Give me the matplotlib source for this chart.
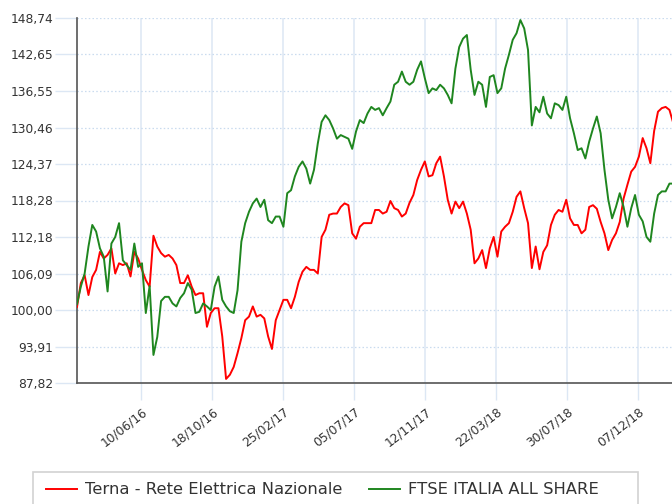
import matplotlib

matplotlib.use("Agg")

import matplotlib.pyplot as plt
import matplotlib.transforms as mtransforms
import pandas as pd
from matplotlib.patches import Rectangle

# ------------------------------------------------------------------
# Data (weekly samples, base 100)
# ------------------------------------------------------------------
dates = pd.date_range("2016-02-13", periods=157, freq="7D")

terna = [
    100.5, 104.5, 105.8, 102.5, 105.5, 106.7, 109.7, 108.6, 109.2, 110.3,
    106.1, 107.8, 107.5, 107.8, 105.6, 109.7, 108.6, 106.7, 105.0, 103.9,
    112.4, 110.6, 109.5, 108.9, 109.2, 108.6, 107.5, 104.5, 104.5, 105.8,
    103.9, 102.5, 102.8, 102.8, 97.2, 99.5, 100.3, 100.3, 95.6, 88.5,
    89.2, 90.5, 92.8, 95.3, 98.3, 98.9, 100.6, 98.9, 99.2, 98.6,
    95.6, 93.5, 98.3, 100.0, 101.7, 101.7, 100.3, 102.2, 104.7, 106.4,
    107.2, 106.7, 106.7, 106.1, 112.2, 113.4, 115.9, 116.1, 116.1, 117.2,
    117.8, 117.5, 112.8, 111.9, 113.9, 114.5, 114.5, 114.5, 116.7, 116.7,
    116.1, 116.4, 118.2, 117.0, 116.7, 115.6, 116.1, 117.9, 119.2, 121.7,
    123.4, 124.8, 122.3, 122.5, 124.5, 125.6, 122.3, 118.4, 116.1, 118.1,
    117.0, 118.1, 116.1, 113.4, 107.8, 108.6, 110.0, 107.0, 110.3, 112.2,
    108.9, 113.1, 113.9, 114.5, 116.4, 118.9, 119.8, 117.0, 114.5, 107.0,
    110.6, 106.8, 109.7, 110.8, 114.2, 115.9, 116.7, 116.4, 118.4, 115.3,
    114.2, 114.2, 112.8, 113.4, 117.2, 117.5, 116.9, 114.7, 112.8, 110.0,
    111.7, 112.8, 114.7, 118.6, 120.9, 123.1, 123.9, 125.6, 128.7, 127.0,
    124.5, 129.9, 133.1, 133.7, 133.9, 133.4, 131.2,
]

ftse = [
    101.0, 103.9, 106.1, 110.6, 114.2, 113.1, 110.3, 108.9, 103.1, 111.1,
    112.2, 114.5, 108.3, 107.5, 106.7, 111.1, 107.2, 107.8, 99.5, 104.0,
    92.5, 95.5, 101.5, 102.2, 102.2, 101.1, 100.6, 102.0, 102.8, 104.5,
    103.4, 99.5, 99.7, 101.1, 100.6, 100.0, 103.9, 105.6, 101.7, 100.6,
    99.8, 99.5, 103.3, 111.4, 114.5, 116.4, 117.8, 118.6, 117.2, 118.4,
    115.0, 114.5, 115.6, 115.6, 113.9, 119.5, 120.0, 122.3, 123.9, 124.8,
    123.6, 121.1, 123.4, 127.8, 131.4, 132.5, 131.7, 130.3, 128.6, 129.2,
    128.9, 128.6, 126.9, 129.8, 131.7, 131.2, 132.8, 133.9, 133.4, 133.7,
    132.5, 133.7, 134.8, 137.6, 138.1, 139.8, 138.1, 137.6, 138.1, 140.1,
    141.5, 138.7, 136.2, 137.0, 136.7, 137.6, 137.0, 135.9, 134.5, 140.3,
    143.9, 145.3, 145.9, 140.1, 135.9, 138.1, 137.6, 133.9, 138.9, 139.2,
    136.2, 137.0, 140.3, 142.6, 145.1, 146.2, 148.4, 147.0, 143.4, 130.8,
    133.9, 133.0, 135.6, 132.8, 132.0, 134.5, 134.2, 133.4, 135.6, 132.0,
    129.5, 126.7, 127.0, 125.3, 128.1, 130.3, 132.3, 129.5, 123.4, 118.4,
    115.3, 117.2, 119.5, 117.2, 113.9, 117.0, 119.2, 115.9, 114.8, 112.2,
    111.4, 116.1, 119.2, 119.8, 119.8, 121.1, 121.1,
]

series_names = ["Terna - Rete Elettrica Nazionale", "FTSE ITALIA ALL SHARE"]
series_colors = ["#ff0000", "#1f861f"]

x_tick_labels = [
    "10/06/16", "18/10/16", "25/02/17", "05/07/17",
    "12/11/17", "22/03/18", "30/07/18", "07/12/18",
]
y_tick_labels = [
    "87,82", "93,91", "100,00", "106,09", "112,18", "118,28",
    "124,37", "130,46", "136,55", "142,65", "148,74",
]

# ------------------------------------------------------------------
# Style
# ------------------------------------------------------------------
W, H = 672, 504
GRID_V = "#dce7f4"
GRID_H = "#c9dbef"
TEXT = "#333333"
AXIS = "#555555"


def px(x: float, y: float) -> tuple[float, float]:
    """Pixel position (top-left origin) to figure fraction."""
    return x / W, 1 - y / H


fig = plt.figure(figsize=(W / 100, H / 100), dpi=100)
ax = fig.add_axes([77 / W, 1 - 383 / H, 599 / W, 365 / H])

lines = []
for values, name, color in zip([terna, ftse], series_names, series_colors):
    (line,) = ax.plot(dates, values, color=color, lw=1.4, label=name, zorder=3)
    lines.append(line)

x_ticks = pd.to_datetime(x_tick_labels, format="%d/%m/%y")
y_ticks = [float(s.replace(",", ".")) for s in y_tick_labels]

ax.set_xlim(pd.Timestamp("2016-02-13"), pd.Timestamp("2019-02-14"))
ax.set_ylim(y_ticks[0], y_ticks[-1])

ax.set_xticks(x_ticks)
ax.set_xticklabels(
    x_tick_labels,
    rotation=38,
    ha="right",
    va="top",
    rotation_mode="anchor",
)
ax.set_yticks(y_ticks)
ax.set_yticklabels(y_tick_labels)

offset = mtransforms.ScaledTranslation(4 / 100, 0, fig.dpi_scale_trans)
for label in ax.get_xticklabels():
    label.set_transform(label.get_transform() + offset)

ax.tick_params(
    axis="x", length=12.2, width=1.0, color=GRID_V, pad=3.6,
    labelsize=8.8, labelcolor=TEXT,
)
ax.tick_params(
    axis="y", length=15.8, width=1.0, color=GRID_V, pad=1.4,
    labelsize=8.8, labelcolor=TEXT,
)

ax.set_axisbelow(True)
ax.xaxis.grid(True, color=GRID_V, lw=1.1, ls="-")
ax.yaxis.grid(True, color=GRID_H, lw=0.9, ls=(0, (1.2, 1.8)))

for side in ("top", "right"):
    ax.spines[side].set_visible(False)
for side in ("left", "bottom"):
    ax.spines[side].set_color(AXIS)
    ax.spines[side].set_linewidth(1.2)

# ------------------------------------------------------------------
# Legend (entries + separate frame, bottom cut off like the source)
# ------------------------------------------------------------------
fig.legend(
    lines,
    series_names,
    loc="center left",
    bbox_to_anchor=px(46, 490),
    ncol=2,
    frameon=False,
    borderpad=0,
    borderaxespad=0,
    handlelength=1.9,
    handletextpad=0.5,
    columnspacing=1.6,
    prop={"size": 11.8},
    labelcolor=TEXT,
)

x0, y0 = px(33, 512)
frame = Rectangle(
    (x0, y0),
    605 / W,
    40 / H,
    transform=fig.transFigure,
    fill=False,
    edgecolor="#d2d2d2",
    lw=1.2,
)
fig.add_artist(frame)

fig.savefig("out.png", dpi=100)
plt.close(fig)
